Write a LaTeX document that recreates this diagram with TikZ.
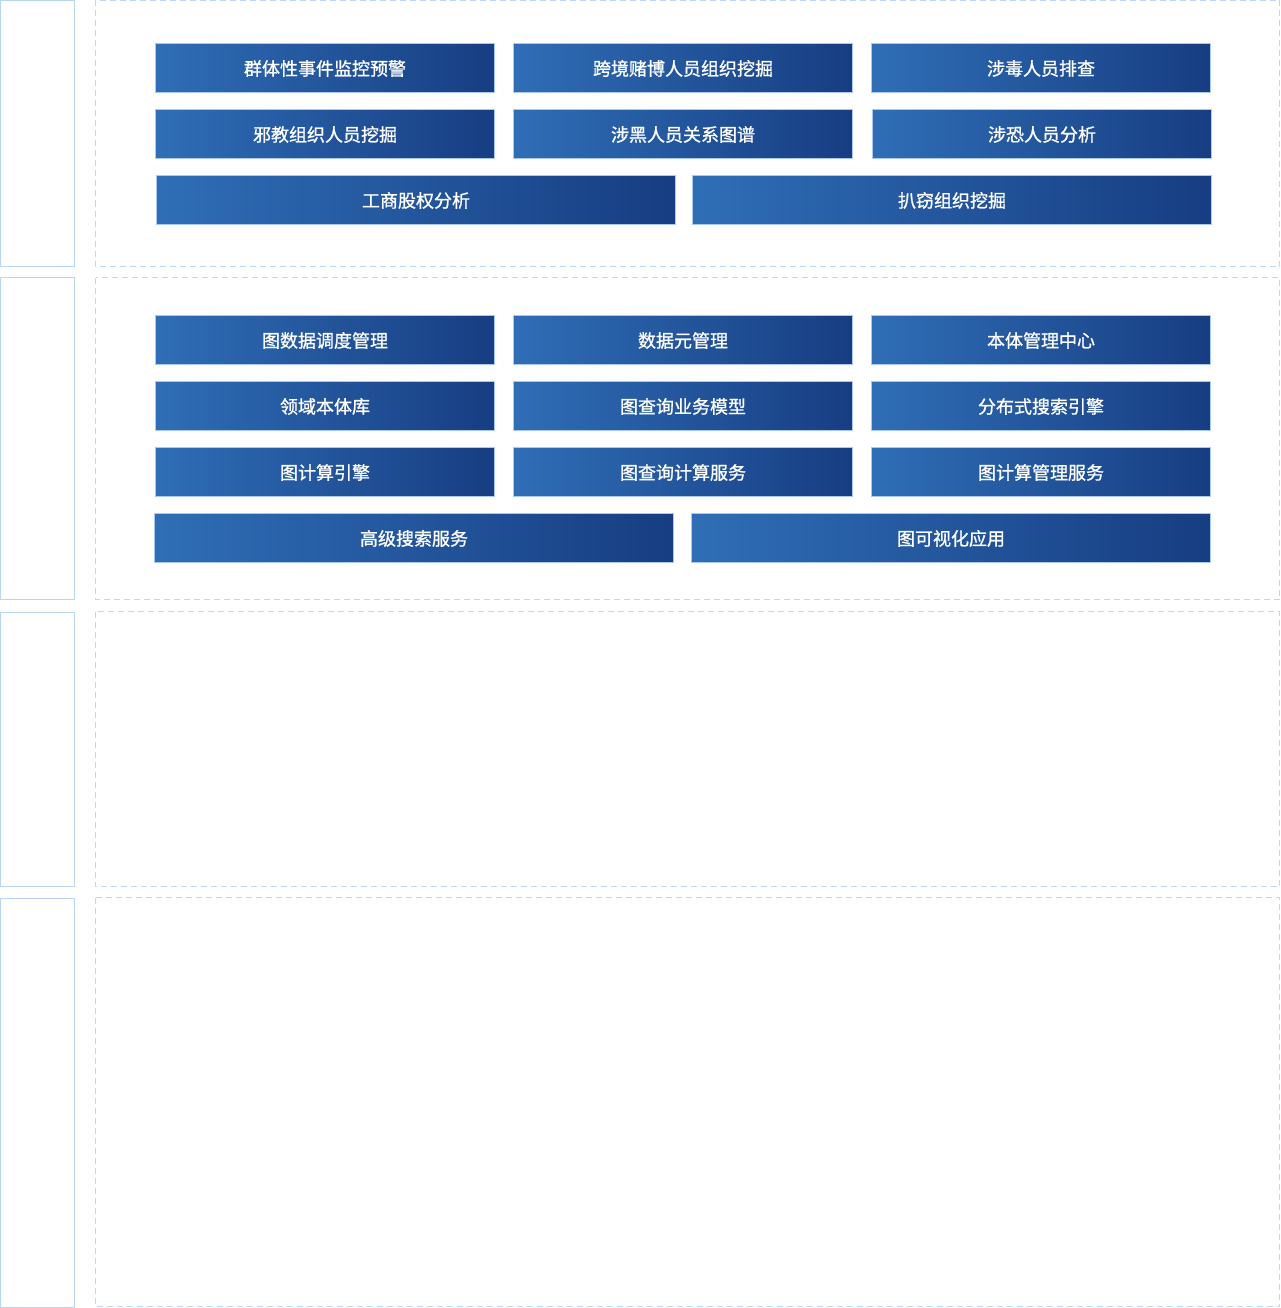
\documentclass[tikz,border=0pt]{standalone}
\usepackage{fontspec}
\newfontfamily\cjk[FakeBold=0.9]{Noto Sans CJK SC}
\definecolor{btnL}{HTML}{2F6EB6}
\definecolor{btnR}{HTML}{173D82}
\definecolor{btnB}{HTML}{A9C9F0}
\definecolor{sideB}{HTML}{B9D6F7}
\definecolor{dashB}{HTML}{BCD8F7}
\begin{document}
\begin{tikzpicture}[x=1pt,y=-1pt,
  sidebox/.style={draw=sideB,line width=1pt},
  panel/.style={draw=dashB,line width=1pt,dash pattern=on 6pt off 4pt},
  btn/.style={draw=btnB,line width=1pt,left color=btnL,right color=btnR,shading angle=90}]
\useasboundingbox (0,0) rectangle (1281,1308);
% side boxes
\draw[sidebox] (0.5,0.5) rectangle (74.5,266.5);
\draw[sidebox] (0.5,277.5) rectangle (74.5,599.5);
\draw[sidebox] (0.5,612.5) rectangle (74.5,886.5);
\draw[sidebox] (0.5,898.5) rectangle (74.5,1307.5);
% dashed panels
\draw[panel] (95.5,0.5) rectangle (1279.5,266.5);
\draw[panel] (95.5,277.5) rectangle (1279.5,599.5);
\draw[panel] (95.5,611.5) rectangle (1279.5,886.5);
\draw[panel] (95.5,897.5) rectangle (1279.5,1306.5);
% buttons
\newcommand{\btnnode}[6]{%
  \shade[btn] (#2,#3) rectangle (#4,#5);
  \node[text=white,font=\cjk\fontsize{18}{20}\selectfont,inner sep=0pt] (#1) at ({(#2+#4)/2},{(#3+#5)/2+0.5}) {#6};}
\btnnode{a1}{155.5}{43.5}{494.5}{92.5}{群体性事件监控预警}
\btnnode{a2}{513.5}{43.5}{852.5}{92.5}{跨境赌博人员组织挖掘}
\btnnode{a3}{871.5}{43.5}{1210.5}{92.5}{涉毒人员排查}
\btnnode{a4}{155.5}{109.5}{494.5}{158.5}{邪教组织人员挖掘}
\btnnode{a5}{513.5}{109.5}{852.5}{158.5}{涉黑人员关系图谱}
\btnnode{a6}{872.5}{109.5}{1211.5}{158.5}{涉恐人员分析}
\btnnode{a7}{156.5}{175.5}{675.5}{224.5}{工商股权分析}
\btnnode{a8}{692.5}{175.5}{1211.5}{224.5}{扒窃组织挖掘}
\btnnode{b1}{155.5}{315.5}{494.5}{364.5}{图数据调度管理}
\btnnode{b2}{513.5}{315.5}{852.5}{364.5}{数据元管理}
\btnnode{b3}{871.5}{315.5}{1210.5}{364.5}{本体管理中心}
\btnnode{b4}{155.5}{381.5}{494.5}{430.5}{领域本体库}
\btnnode{b5}{513.5}{381.5}{852.5}{430.5}{图查询业务模型}
\btnnode{b6}{871.5}{381.5}{1210.5}{430.5}{分布式搜索引擎}
\btnnode{b7}{155.5}{447.5}{494.5}{496.5}{图计算引擎}
\btnnode{b8}{513.5}{447.5}{852.5}{496.5}{图查询计算服务}
\btnnode{b9}{871.5}{447.5}{1210.5}{496.5}{图计算管理服务}
\btnnode{b10}{154.5}{513.5}{673.5}{562.5}{高级搜索服务}
\btnnode{b11}{691.5}{513.5}{1210.5}{562.5}{图可视化应用}
\end{tikzpicture}
\end{document}
